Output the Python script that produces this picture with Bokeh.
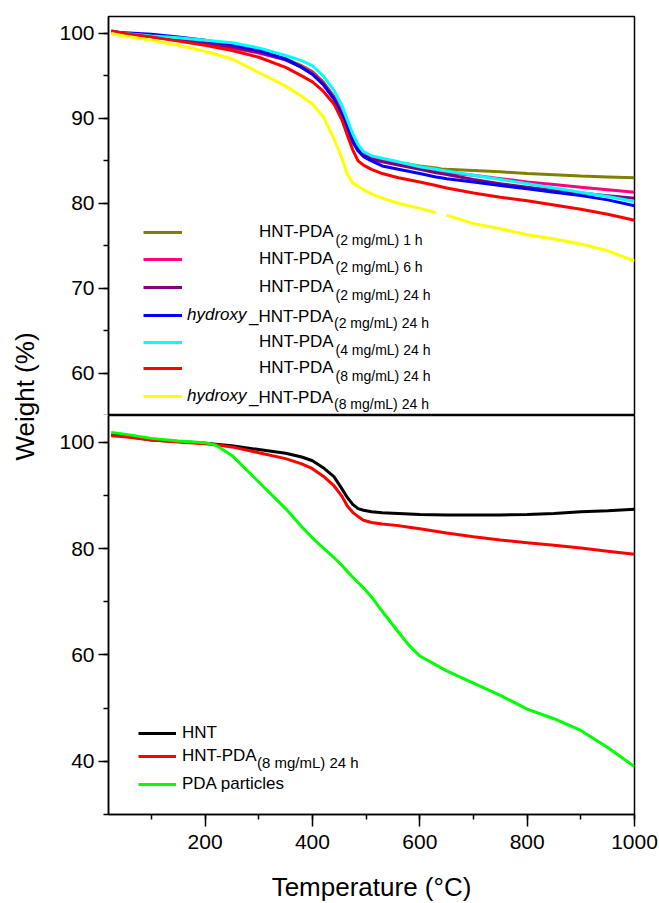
import math
from bokeh.plotting import figure
from bokeh.models import (Range1d, LinearAxis, SingleIntervalTicker, Legend,
                          LegendItem, Label)
from bokeh.layouts import row, column
from bokeh.embed import file_html
from bokeh.resources import INLINE
from bokeh.core.properties import value

nan = float("nan")
FONT = "Liberation Sans"

# ---------------- data ----------------
T_TOP = [25, 50, 100, 150, 200, 250, 300, 350, 380, 400, 420, 440, 455, 465, 475,
         485, 495, 510, 530, 560, 600, 630, 640, 650, 700, 750, 800, 850, 900, 950, 1000]

W_2MG_1H = [100.2, 100.0, 99.6, 99.2, 98.8, 98.4, 97.8, 97.0, 96.2, 95.5, 94.3, 92.6, 90.8, 89.2, 87.6,
            86.6, 86.0, 85.5, 85.0, 84.8, 84.4, 84.15, 84.05, 84.0, 83.85, 83.7, 83.5, 83.35, 83.2, 83.1, 83.0]
W_2MG_6H = [100.3, 100.0, 99.6, 99.2, 98.8, 98.3, 97.7, 96.9, 96.1, 95.4, 94.2, 92.5, 90.6, 89.0, 87.4,
            86.4, 85.8, 85.3, 85.0, 84.7, 84.2, 83.8, 83.7, 83.6, 83.3, 82.9, 82.5, 82.2, 81.9, 81.6, 81.3]
W_2MG_24H = [100.2, 100.0, 99.7, 99.3, 98.9, 98.4, 97.8, 96.9, 96.0, 95.2, 94.0, 92.3, 90.4, 88.8, 87.2,
             86.2, 85.6, 85.2, 84.9, 84.5, 84.0, 83.6, 83.5, 83.4, 82.8, 82.3, 81.9, 81.5, 81.2, 80.9, 80.6]
W_HYD_2MG_24H = [100.2, 100.1, 99.9, 99.6, 99.2, 98.7, 98.0, 97.0, 96.0, 95.2, 94.0, 92.3, 90.4, 88.9, 87.3,
                 86.2, 85.5, 85.0, 84.4, 84.0, 83.5, 83.1, 83.0, 82.9, 82.5, 82.1, 81.7, 81.3, 80.9, 80.4, 79.7]
W_4MG_24H = [100.2, 100.0, 99.7, 99.5, 99.2, 98.9, 98.3, 97.4, 96.8, 96.2, 95.0, 93.3, 91.5, 89.8, 88.2,
             86.9, 86.1, 85.6, 85.3, 84.9, 84.3, 84.0, 83.9, 83.8, 83.3, 82.8, 82.3, 81.8, 81.3, 80.8, 80.2]
W_8MG_24H = [100.3, 100.0, 99.6, 99.1, 98.6, 98.0, 97.2, 96.0, 95.0, 94.3, 93.2, 91.7, 89.8, 88.0, 86.3,
             85.0, 84.5, 84.0, 83.5, 83.0, 82.5, 82.1, 81.95, 81.8, 81.2, 80.7, 80.3, 79.8, 79.3, 78.7, 78.0]
W_HYD_8MG_24H = [100.0, 99.7, 99.2, 98.6, 97.9, 97.0, 95.4, 93.8, 92.6, 91.7, 90.2, 87.6, 85.3, 83.4, 82.4,
                 82.0, 81.6, 81.1, 80.6, 80.0, 79.4, 78.9, nan, 78.6, 77.6, 77.0, 76.3, 75.8, 75.2, 74.4, 73.2]

T_BOT = [25, 50, 100, 150, 200, 220, 250, 300, 350, 380, 400, 420, 440, 455, 465, 475,
         485, 495, 510, 530, 560, 580, 600, 650, 700, 750, 800, 850, 900, 950, 1000]
W_HNT = [101.4, 101.2, 100.4, 100.1, 99.8, 99.6, 99.3, 98.6, 97.9, 97.2, 96.5, 95.2, 93.5, 91.2, 89.6, 88.3,
         87.5, 87.2, 86.9, 86.7, 86.6, 86.5, 86.4, 86.3, 86.3, 86.3, 86.4, 86.6, 86.9, 87.1, 87.4]
W_HNT_PDA_8 = [101.2, 101.0, 100.4, 100.0, 99.7, 99.5, 99.1, 98.0, 96.9, 95.9, 95.0, 93.6, 91.8, 89.8, 88.0, 86.8,
               86.0, 85.3, 84.9, 84.6, 84.3, 84.0, 83.7, 82.9, 82.2, 81.6, 81.1, 80.6, 80.1, 79.5, 78.9]
W_PDA = [101.8, 101.5, 100.7, 100.2, 99.9, 99.4, 97.5, 92.5, 87.5, 84.1, 82.0, 80.1, 78.3, 76.8, 75.7, 74.6,
         73.6, 72.6, 70.9, 68.2, 64.3, 61.8, 59.8, 57.0, 54.7, 52.4, 49.8, 48.0, 45.8, 42.6, 39.0]

TOP_SERIES = [
    (W_2MG_1H, "#808000", ["", "HNT-PDA", "(2 mg/mL) 1 h"]),
    (W_2MG_6H, "#FF0080", ["", "HNT-PDA", "(2 mg/mL) 6 h"]),
    (W_2MG_24H, "#800080", ["", "HNT-PDA", "(2 mg/mL) 24 h"]),
    (W_HYD_2MG_24H, "#0000FF", ["hydroxy", "_HNT-PDA", "(2 mg/mL) 24 h"]),
    (W_4MG_24H, "#00FFFF", ["", "HNT-PDA", "(4 mg/mL) 24 h"]),
    (W_8MG_24H, "#FF0000", ["", "HNT-PDA", "(8 mg/mL) 24 h"]),
    (W_HYD_8MG_24H, "#FFFF00", ["hydroxy", "_HNT-PDA", "(8 mg/mL) 24 h"]),
]
BOT_SERIES = [
    (W_HNT, "#000000", ["HNT", ""]),
    (W_HNT_PDA_8, "#FF0000", ["HNT-PDA", "(8 mg/mL) 24 h"]),
    (W_PDA, "#00FF00", ["PDA particles", ""]),
]

X_RANGE = (20, 1000)
TOP_Y = (55, 102)
BOT_Y = (30, 105)

# ---------------- layout geometry (page pixels) ----------------
FRAME_L, FRAME_R = 108, 634
TOP_T, SEAM, BOT_B = 16, 415, 814
BOTTOM_BORDER = 89
FW = FRAME_R - FRAME_L
FH = SEAM - TOP_T
LABW = 53


def tx(px):
    return X_RANGE[0] + (px - FRAME_L) * (X_RANGE[1] - X_RANGE[0]) / FW


def ty_top(py):
    return TOP_Y[1] - (py - TOP_T) * (TOP_Y[1] - TOP_Y[0]) / FH


def ty_bot(py):
    return BOT_Y[1] - (py - SEAM) * (BOT_Y[1] - BOT_Y[0]) / FH


def style(p, yint):
    p.grid.visible = False
    p.outline_line_color = "black"
    p.outline_line_width = 1.5
    p.background_fill_color = "white"
    p.border_fill_color = "white"
    ax = LinearAxis(ticker=SingleIntervalTicker(interval=yint, num_minor_ticks=2))
    ax.major_label_text_font = FONT
    ax.major_label_text_font_size = "21px"
    ax.major_label_text_color = "black"
    ax.major_tick_out = 10
    ax.major_tick_in = 0
    ax.minor_tick_out = 5
    ax.minor_tick_in = 0
    ax.axis_line_width = 1.5
    ax.major_tick_line_width = 1.5
    ax.minor_tick_line_width = 1.5
    ax.major_label_standoff = 4
    p.add_layout(ax, "left")


def row_legend(p, r, label, sw0, sw1, row_from_bottom, text_x, italic=False):
    leg = Legend(items=[LegendItem(label=value(label), renderers=[r])],
                 location=(sw0 - FRAME_L, row_from_bottom - 10),
                 glyph_width=sw1 - sw0, glyph_height=20, label_height=20,
                 spacing=0, padding=0, margin=0, label_standoff=text_x - sw1,
                 label_text_font=FONT, label_text_font_size="17px",
                 label_text_font_style="italic" if italic else "normal",
                 label_text_color="black", label_text_baseline="middle",
                 border_line_alpha=0, background_fill_alpha=0)
    p.add_layout(leg)


common = dict(frame_width=FW, frame_height=FH, toolbar_location=None,
              output_backend="svg", x_axis_location=None, y_axis_location=None,
              min_border_left=FRAME_L - LABW, min_border_right=25)

# ---------------- top panel ----------------
top = figure(x_range=Range1d(*X_RANGE), y_range=Range1d(*TOP_Y),
             min_border_top=TOP_T, min_border_bottom=0, **common)
style(top, 10)

top_rows = [231.5, 259.3, 286.7, 314.5, 341.7, 368.3, 396.3]
for (w, c, lab), ry in zip(TOP_SERIES, top_rows):
    r = top.line(T_TOP, w, line_color=c, line_width=3)
    if lab[0]:
        row_legend(top, r, lab[0], 143, 182, SEAM - ry, 187, italic=True)
        top.add_layout(Label(x=tx(248.5), y=ty_top(ry + 1), text=lab[1], text_font=FONT,
                             text_font_size="17px", text_baseline="middle", text_color="black"))
        sx = 333.5
    else:
        row_legend(top, r, lab[1], 143, 182, SEAM - ry, 259)
        sx = 335
    top.add_layout(Label(x=tx(sx), y=ty_top(ry + 7.5), text=lab[2], text_font=FONT,
                         text_font_size="14px", text_baseline="middle", text_color="black"))

# ---------------- bottom panel ----------------
bot = figure(x_range=top.x_range, y_range=Range1d(*BOT_Y),
             min_border_top=0, min_border_bottom=BOTTOM_BORDER, **common)
style(bot, 20)
xax = LinearAxis(ticker=SingleIntervalTicker(interval=200, num_minor_ticks=2))
xax.major_label_text_font = FONT
xax.major_label_text_font_size = "21px"
xax.major_label_text_color = "black"
xax.major_tick_out = 12
xax.major_tick_in = 0
xax.minor_tick_out = 5
xax.minor_tick_in = 0
xax.axis_line_width = 1.5
xax.major_tick_line_width = 1.5
xax.minor_tick_line_width = 1.5
xax.major_label_standoff = 8
xax.axis_label = "Temperature (\u00b0C)"
xax.axis_label_text_font = FONT
xax.axis_label_text_font_size = "26px"
xax.axis_label_text_font_style = "normal"
xax.axis_label_text_color = "black"
xax.axis_label_standoff = 20
bot.add_layout(xax, "below")

bot_rows = [733.3, 756.0, 784.3]
for (w, c, lab), ry in zip(BOT_SERIES, bot_rows):
    r = bot.line(T_BOT, w, line_color=c, line_width=3)
    row_legend(bot, r, lab[0], 138, 176, BOT_B - ry, 182)
    if lab[1]:
        bot.add_layout(Label(x=tx(256.5), y=ty_bot(ry + 5.5), text=lab[1], text_font=FONT,
                             text_font_size="15px", text_baseline="middle", text_color="black"))

# ---------------- y label strip ----------------
TOTAL_H = BOT_B + BOTTOM_BORDER
labfig = figure(width=LABW, height=TOTAL_H, x_range=Range1d(0, LABW),
                y_range=Range1d(TOTAL_H, 0), min_border=0, toolbar_location=None,
                output_backend="svg", x_axis_location=None, y_axis_location=None)
labfig.grid.visible = False
labfig.outline_line_color = None
labfig.add_layout(Label(x=24, y=396, text="Weight (%)", angle=math.pi / 2,
                        text_align="center", text_baseline="middle",
                        text_font=FONT, text_font_size="26px", text_color="black"))

layout = row(labfig, column(top, bot))
open("out.html", "w").write(file_html(layout, INLINE, title="TGA"))
